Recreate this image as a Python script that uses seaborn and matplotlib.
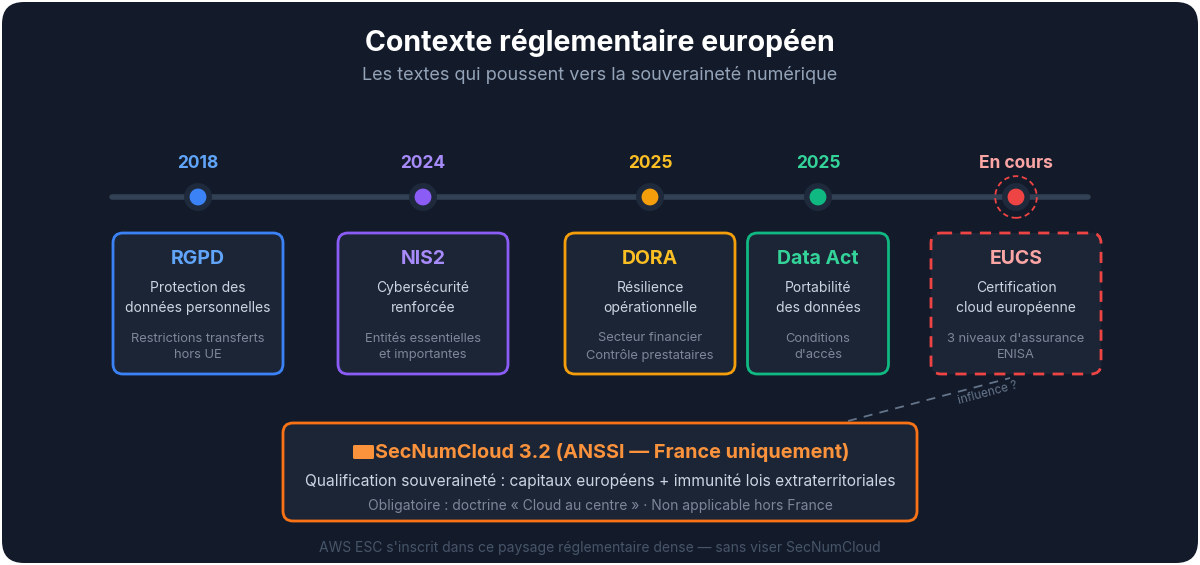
import numpy as np
import pandas as pd
import matplotlib
matplotlib.use("Agg")
import matplotlib.pyplot as plt
import seaborn as sns
from matplotlib.patches import FancyBboxPatch

# --- data ---
years = ["2018", "2024", "2025", "2025", "En cours"]
names = ["RGPD", "NIS2", "DORA", "Data Act", "EUCS"]
descs = ["Protection des\ndonnées personnelles", "Cybersécurité\nrenforcée",
         "Résilience\nopérationnelle", "Portabilité\ndes données",
         "Certification\ncloud européenne"]
details = ["Restrictions transferts\nhors UE", "Entités essentielles\net importantes",
           "Secteur financier\nContrôle prestataires", "Conditions\nd'accès",
           "3 niveaux d'assurance\nENISA"]
snc_title = "SecNumCloud 3.2 (ANSSI — France uniquement)"
snc_line1 = "Qualification souveraineté : capitaux européens + immunité lois extraterritoriales"
snc_line2 = "Obligatoire : doctrine « Cloud au centre » · Non applicable hors France"
footer = "AWS ESC s'inscrit dans ce paysage réglementaire dense — sans viser SecNumCloud"

# --- layout / style ---
xpos = [198, 423, 650, 818, 1016]
widths = [170, 170, 170, 141, 170]
edge_cols = ["#3b82f6", "#8b5cf6", "#f59e0b", "#10b981", "#ef4444"]
text_cols = ["#60a5fa", "#a78bfa", "#fbbf24", "#34d399", "#fca5a5"]
bg = "#131b2a"
card = "#1c2536"

sns.set_theme(style="white")
plt.rcParams['font.family'] = ['Inter', 'DejaVu Sans']

fig = plt.figure(figsize=(12, 5.65), dpi=100)
fig.patch.set_facecolor("white")
ax = fig.add_axes([0, 0, 1, 1])
ax.set_xlim(0, 1200)
ax.set_ylim(565, 0)
ax.axis("off")

ax.add_patch(FancyBboxPatch((2, 2), 1196, 561, boxstyle="round,pad=0,rounding_size=22",
                            fc=bg, ec="none", zorder=0))

ax.text(600, 43, "Contexte réglementaire européen", ha="center", va="center",
        color="white", fontsize=20.5, fontweight="bold")
ax.text(600, 75, "Les textes qui poussent vers la souveraineté numérique", ha="center",
        va="center", color="#94a3b8", fontsize=13)

# timeline
ax.plot([112, 1088], [197, 197], color="#334155", lw=4, solid_capstyle="round", zorder=1)
df = pd.DataFrame({"x": xpos, "y": [197] * 5, "name": names})
sns.scatterplot(data=df, x="x", y="y", hue="name", palette=dict(zip(names, edge_cols)),
                s=260, edgecolor="#1e293b", linewidth=4, legend=False, ax=ax, zorder=3)
ax.scatter([xpos[-1]], [197], s=900, facecolor="none", edgecolor=edge_cols[-1],
           linestyle=(0, (3, 2)), linewidth=1.3, zorder=2)

for i in range(len(names)):
    x, w = xpos[i], widths[i]
    ax.text(x, 164, years[i], ha="center", va="center", color=text_cols[i],
            fontsize=12.5, fontweight="bold")
    ls = (0, (4, 3)) if i == len(names) - 1 else "-"
    ax.add_patch(FancyBboxPatch((x - w / 2, 233), w, 141,
                                boxstyle="round,pad=0,rounding_size=10",
                                fc=card, ec=edge_cols[i], lw=2, linestyle=ls, zorder=2))
    ax.text(x, 259, names[i], ha="center", va="center", color=text_cols[i],
            fontsize=14, fontweight="bold", zorder=3)
    ax.text(x, 298, descs[i], ha="center", va="center", color="#cbd5e1",
            fontsize=10, linespacing=1.5, zorder=3)
    ax.text(x, 347, details[i], ha="center", va="center", color="#7c8799",
            fontsize=9.3, linespacing=1.5, zorder=3)

# influence link
ax.plot([848, 1010], [421, 378], color="#64748b", lw=1.3, linestyle=(0, (5, 4)), zorder=1)
ax.text(988, 393, "influence ?", ha="center", va="center", color="#64748b",
        fontsize=8.5, rotation=15)

# SecNumCloud box
ax.add_patch(FancyBboxPatch((283, 423), 634, 98, boxstyle="round,pad=0,rounding_size=10",
                            fc=card, ec="#f97316", lw=2, zorder=2))
ax.add_patch(FancyBboxPatch((353, 445), 21, 14, boxstyle="round,pad=0,rounding_size=1.5",
                            fc="#fb923c", ec="none", zorder=3))
ax.text(612, 452, snc_title, ha="center", va="center", color="#fb923c",
        fontsize=14.3, fontweight="bold", zorder=3)
ax.text(600, 481, snc_line1, ha="center", va="center", color="#cbd5e1", fontsize=11.2, zorder=3)
ax.text(600, 506, snc_line2, ha="center", va="center", color="#7c8799", fontsize=10, zorder=3)

ax.text(600, 548, footer, ha="center", va="center", color="#475569", fontsize=10)

fig.savefig("out.png", dpi=100, facecolor=fig.get_facecolor())
